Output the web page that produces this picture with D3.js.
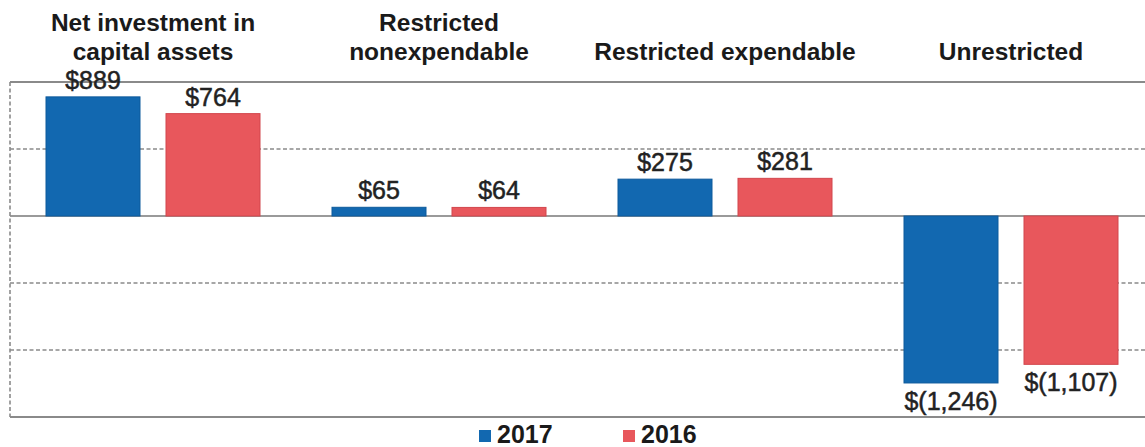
<!DOCTYPE html>
<html>
<head>
<meta charset="utf-8">
<script src="https://cdn.jsdelivr.net/npm/d3@7/dist/d3.min.js"></script>
<style>
  html, body { margin: 0; padding: 0; background: #ffffff; }
  svg { display: block; font-family: "Liberation Sans", Arial, sans-serif; }
</style>
</head>
<body>
<svg id="chart" width="1145" height="447"></svg>
<script>
const categories = [
  ["Net investment in", "capital assets"],
  ["Restricted", "nonexpendable"],
  ["Restricted expendable"],
  ["Unrestricted"]
];
const seriesNames = ["2017", "2016"];
const values2017 = [889, 65, 275, -1246];
const values2016 = [764, 64, 281, -1107];
const gridValues = [1000, 500, 0, -500, -1000, -1500];
const colors = ["#1268b0", "#e8575c"];
const strokeColors = ["#0d5a9c", "#d2464c"];

const W = 1145, H = 447;
const plot = { left: 10, right: 1154, top: 82, bottom: 417 };

const svg = d3.select("#chart");

const x0 = d3.scaleBand().domain(d3.range(categories.length))
  .range([plot.left, plot.right]).paddingInner(0).paddingOuter(0);
const x1 = d3.scaleBand().domain(seriesNames)
  .range([36, 250]).paddingInner(0.2167).paddingOuter(0);
const y = d3.scaleLinear().domain([-1500, 1000]).range([plot.bottom, plot.top]);
const color = d3.scaleOrdinal().domain(seriesNames).range(colors);
const strokeC = d3.scaleOrdinal().domain(seriesNames).range(strokeColors);

const fmt = v => v < 0 ? "$(" + d3.format(",")(-v) + ")" : "$" + d3.format(",")(v);

// grid
const grid = svg.append("g");
gridValues.forEach(v => {
  const solid = (v === 1000 || v === 0 || v === -1500);
  grid.append("line")
    .attr("x1", plot.left).attr("x2", W)
    .attr("y1", y(v)).attr("y2", y(v))
    .attr("stroke", v === 0 ? "#9a9a9a" : "#8a8a8a")
    .attr("stroke-width", solid ? 2 : 1.6)
    .attr("stroke-dasharray", solid ? null : "4,2.5");
});
grid.append("line")
  .attr("x1", plot.left).attr("x2", plot.left)
  .attr("y1", y(1000)).attr("y2", y(-1500))
  .attr("stroke", "#8a8a8a").attr("stroke-width", 1.6)
  .attr("stroke-dasharray", "4,2.5");

// data rows
const rows = categories.map((c, i) => ({
  i, label: c,
  vals: [{ s: "2017", v: values2017[i] }, { s: "2016", v: values2016[i] }]
}));

const groups = svg.append("g").selectAll("g").data(rows).join("g")
  .attr("transform", d => `translate(${x0(d.i)},0)`);

groups.selectAll("rect").data(d => d.vals).join("rect")
  .attr("x", d => x1(d.s))
  .attr("width", x1.bandwidth())
  .attr("y", d => y(Math.max(0, d.v)))
  .attr("height", d => Math.abs(y(d.v) - y(0)))
  .attr("fill", d => color(d.s))
  .attr("stroke", d => strokeC(d.s))
  .attr("stroke-width", 1);

groups.selectAll("text.val").data(d => d.vals).join("text")
  .attr("class", "val")
  .attr("x", d => x1(d.s) + x1.bandwidth() / 2)
  .attr("y", d => d.v >= 0 ? y(d.v) - 8 : y(d.v) + 27)
  .attr("text-anchor", "middle")
  .attr("font-size", 25)
  .attr("fill", "#222")
  .attr("stroke", "#222")
  .attr("stroke-width", 0.5)
  .text(d => fmt(d.v));

// category titles
groups.each(function(d) {
  const g = d3.select(this);
  const cx = x0.bandwidth() / 2;
  const lines = d.label;
  const baseY = lines.length === 2 ? [31, 60] : [60];
  lines.forEach((t, k) => {
    g.append("text")
      .attr("x", cx).attr("y", baseY[k])
      .attr("text-anchor", "middle")
      .attr("font-size", 24.5).attr("font-weight", "bold")
      .attr("fill", "#1a1a1a")
      .text(t);
  });
});

// legend
const legendX = [479, 623];
const lg = svg.append("g");
seriesNames.forEach((s, k) => {
  lg.append("rect").attr("x", legendX[k]).attr("y", 430)
    .attr("width", 12).attr("height", 12).attr("fill", color(s));
  lg.append("text").attr("x", legendX[k] + 18).attr("y", 443)
    .attr("font-size", 25).attr("font-weight", "bold").attr("fill", "#1a1a1a")
    .text(s);
});
</script>
</body>
</html>
